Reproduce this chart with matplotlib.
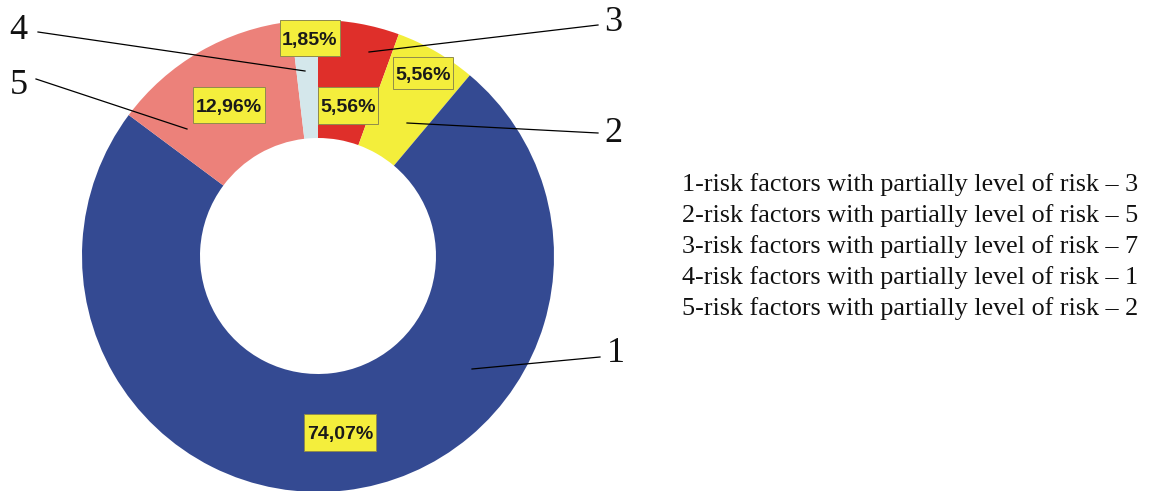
import matplotlib
matplotlib.use("Agg")
import matplotlib.pyplot as plt
from matplotlib.patches import Rectangle

# ---- data ----
slice_ids = ["3", "2", "1", "5", "4"]          # clockwise from 12 o'clock
slice_values = [5.56, 5.56, 74.07, 12.96, 1.85]
slice_colors = ["#DF2F2A", "#F3EE3B", "#344A92", "#EC817A", "#D4E7EB"]
legend_lines = [
    "1-risk factors with partially level of risk \u2013 3",
    "2-risk factors with partially level of risk \u2013 5",
    "3-risk factors with partially level of risk \u2013 7",
    "4-risk factors with partially level of risk \u2013 1",
    "5-risk factors with partially level of risk \u2013 2",
]

W, H = 1151, 491
fig = plt.figure(figsize=(W / 100, H / 100), dpi=100)
ax = fig.add_axes([0, 0, 1, 1])

def Y(py):
    return H - py

cx, cy, R = 318, 256, 236
ax.pie(slice_values, colors=slice_colors, startangle=90, counterclock=False,
       center=(cx, Y(cy)), radius=R,
       wedgeprops=dict(width=R * 0.5, linewidth=0))

ax.set_xlim(0, W)
ax.set_ylim(0, H)
ax.set_aspect("equal")
ax.axis("off")

# percentage label boxes: centre (px) and size (px)
pct_box = {
    "3": ((348, 105), (60, 37)),
    "2": ((423, 73), (60, 32)),
    "1": ((340, 432), (72, 37)),
    "5": ((229, 105), (72, 36)),
    "4": ((310, 38), (60, 36)),
}
for sid, v in zip(slice_ids, slice_values):
    (x, y), (bw, bh) = pct_box[sid]
    ax.add_patch(Rectangle((x - bw / 2, Y(y) - bh / 2), bw, bh, facecolor="#F4EE3C",
                           edgecolor="#8f8b4c", linewidth=0.7, zorder=5))
    ax.text(x, Y(y), f"{v:.2f}".replace(".", ",") + "%", ha="center", va="center_baseline",
            fontsize=14, fontweight="bold", family="Liberation Sans", color="#1a1a1a",
            zorder=6)

# leader lines and category numbers
leaders = {
    "4": ((18, 30), (38, 32), (305, 71)),
    "5": ((19, 85), (36, 79), (187, 129)),
    "3": ((613, 22), (598, 25), (369, 52)),
    "2": ((613, 133), (598, 133), (407, 123)),
    "1": ((616, 354), (600, 357), (472, 369)),
}
for sid, (tp, p0, p1) in leaders.items():
    ax.plot([p0[0], p1[0]], [Y(p0[1]), Y(p1[1])], color="black", linewidth=0.9, zorder=7)
    ax.text(tp[0], Y(tp[1]), sid, ha="center", va="center", fontsize=26,
            family="Liberation Serif", color="#111111")

# legend text
for i, line in enumerate(legend_lines):
    ax.text(682, Y(185 + i * 30.8), line, ha="left", va="center", fontsize=18.8,
            family="Liberation Serif", color="#111111")

fig.savefig("out.png", dpi=100)
